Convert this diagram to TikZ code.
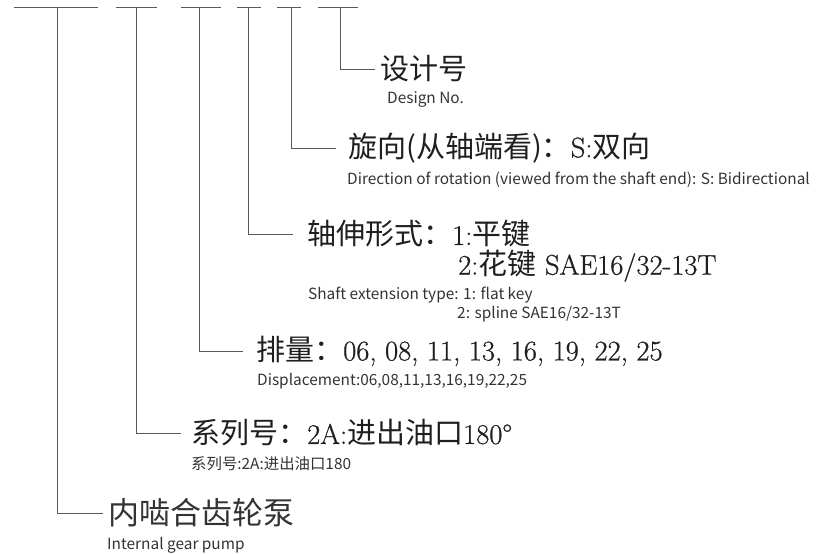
\documentclass[tikz,border=0pt]{standalone}
\usepackage{fontspec}
\newfontfamily\cjk{Noto Sans CJK SC}
\newfontfamily\latn{Latin Modern Roman}[FakeBold=0.7]
\usetikzlibrary{positioning}

\newcommand\zh[1]{{\cjk\fontsize{29}{32}\selectfont #1}}

\begin{document}
\begin{tikzpicture}[
x=1pt, y=-1pt,
codeline/.style={draw=black!65, line width=0.9pt},
mainlbl/.style={anchor=west, inner ysep=0pt, inner xsep=10pt, text=black!88, font=\latn\fontsize{28.5}{32}\selectfont},
sublbl/.style={anchor=west, inner sep=0pt, text=black!80, font=\cjk\fontsize{15.4}{18}\selectfont}
]
\useasboundingbox (0,0) rectangle (825,554);

% code segments
\foreach \a/\b/\m [count=\i] in {14/98/57, 116/157/136, 181/221/199, 237/261/248, 277/301/291, 318/358/340}{
  \draw[codeline] (\a,7.5) -- (\b,7.5);
  \coordinate (t\i) at (\m,7.5);
}

% main labels
\node[mainlbl, inner xsep=5pt] (design) at (375,69) {\zh{设计号}};
\node[mainlbl, inner xsep=12pt] (rotation) at (336,148) {\zh{旋向(从轴端看)：}S:\zh{双向}};
\node[mainlbl, inner xsep=14pt] (shaft) at (293,234) {\zh{轴伸形式：}1:\zh{平键}};
\node[mainlbl, inner xsep=0pt] (shaftb) at (458,266) {2:\zh{花键} SAE16/32-13T};
\node[mainlbl, inner xsep=13pt] (displ) at (243,351) {\zh{排量：}06, 08, 11, 13, 16, 19, 22, 25};
\node[mainlbl] (series) at (181,433) {\zh{系列号：}2A:\zh{进出油口}180°};
\node[mainlbl, inner xsep=5pt, text=black!80, font=\cjk\fontsize{31}{34}\selectfont] (pump) at (103,513) {内啮合齿轮泵};

% english lines
\node[sublbl] (designen) at (387,99) {Design No.};
\node[sublbl] (rotationen) at (347,180) {Direction of rotation (viewed from the shaft end): S: Bidirectional};
\node[sublbl] (shaften) at (308,295) {Shaft extension type: 1: flat key};
\node[sublbl] (shaftben) at (457,314) {2: spline SAE16/32-13T};
\node[sublbl] (displen) at (257,381) {Displacement:06,08,11,13,16,19,22,25};
\node[sublbl] (seriesen) at (191,464) {系列号:2A:进出油口180};
\node[sublbl] (pumpen) at (107,545) {Internal gear pump};

% connectors
\draw[codeline] (t6) |- (design.west);
\draw[codeline] (t5) |- (rotation.west);
\draw[codeline] (t4) |- (shaft.west);
\draw[codeline] (t3) |- (displ.west);
\draw[codeline] (t2) |- (series.west);
\draw[codeline] (t1) |- (pump.west);
\end{tikzpicture}
\end{document}
